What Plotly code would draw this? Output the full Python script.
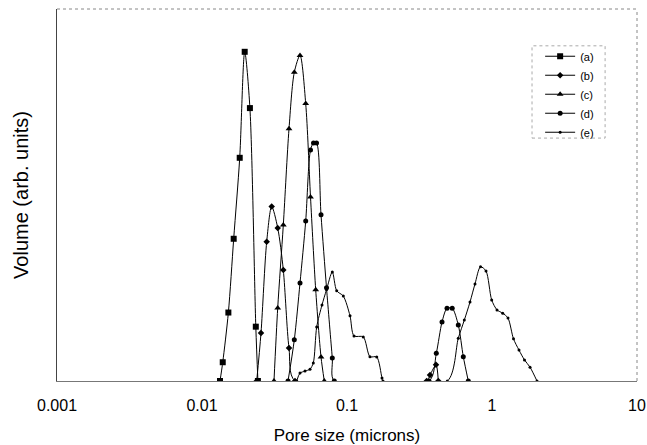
import plotly.graph_objects as go

# Pore size (microns) and volume (arb. units)
a_x = [0.01331, 0.0139, 0.0152, 0.01654, 0.0182, 0.0197, 0.0214, 0.0235, 0.0243]
a_y = [0, 5.7, 20.8, 43.2, 67.8, 100, 82.9, 16.5, 0]

b_x = [0.02384, 0.02552, 0.02794, 0.03024, 0.03328, 0.03637, 0.03981, 0.04379,
       0.3545, 0.3736, 0.4109, 0.4263]
b_y = [0, 14.6, 42.3, 53.0, 46.5, 33.7, 10.0, 0,
       0, 1.8, 4.9, 0]

c_x = [0.03137, 0.03328, 0.03637, 0.03981, 0.04331, 0.04742, 0.0519, 0.05602,
       0.06083, 0.06618, 0.06973]
c_y = [0, 22.2, 47.4, 76.6, 93.8, 98.9, 84.3, 55.9, 27.7, 7.3, 0]

d_x = [0.03919, 0.04331, 0.04742, 0.0519, 0.05602, 0.05875, 0.06162, 0.06618,
       0.07222, 0.07918, 0.08174,
       0.3678, 0.4129, 0.4521, 0.4895, 0.5316, 0.5856, 0.634, 0.6865]
d_y = [0, 12.5, 29.8, 48.6, 70.2, 72.3, 72.3, 50.5, 28.3, 7.0, 0,
       0, 8.4, 17.9, 22.1, 22.1, 17.0, 7.4, 0]

e_x = [0.04499, 0.04742, 0.05132, 0.05557, 0.05856, 0.0618, 0.06724, 0.07222,
       0.07918, 0.08492, 0.0943, 0.1049, 0.1118, 0.1295, 0.144, 0.1603, 0.1743,
       0.1771,
       0.4917, 0.5856, 0.6442, 0.7053, 0.7635, 0.8332, 0.9093, 0.9952, 1.083,
       1.185, 1.289, 1.407, 1.535, 1.675, 1.829, 2.043]
e_y = [0, 2.4, 3.0, 3.6, 5.5, 16.4, 23.1, 27.7, 33.1, 27.4, 25.8, 19.8, 13.7,
       13.4, 7.4, 7.3, 0.9, 0,
       0, 13.0, 18.5, 24.0, 29.5, 34.7, 33.4, 24.6, 21.6, 20.6, 19.1, 12.8,
       9.4, 6.4, 4.2, 0]

tick_vals = [0.001, 0.01, 0.1, 1, 10]
tick_text = ["0.001", "0.01", "0.1", "1", "10"]

series = [
    ("(a)", a_x, a_y, "square", 6),
    ("(b)", b_x, b_y, "diamond", 5),
    ("(c)", c_x, c_y, "triangle-up", 6),
    ("(d)", d_x, d_y, "circle", 5),
    ("(e)", e_x, e_y, "circle", 3),
]

fig = go.Figure()
for name, xs, ys, sym, sz in series:
    fig.add_trace(go.Scatter(
        x=xs, y=ys, name=name, mode="lines+markers",
        line=dict(color="black", width=1, shape="spline", smoothing=0.8),
        marker=dict(symbol=sym, size=sz, color="black"),
    ))

FONT = "Liberation Sans, Arial, sans-serif"

fig.update_layout(
    width=647, height=445,
    margin=dict(l=57, r=10, t=9, b=64, autoexpand=False),
    paper_bgcolor="white", plot_bgcolor="white",
    font=dict(family=FONT, color="black"),
    showlegend=True,
    legend=dict(
        x=0.833, y=0.912, xanchor="left", yanchor="top",
        bgcolor="rgba(0,0,0,0)", borderwidth=0,
        font=dict(size=11), tracegroupgap=0, itemwidth=30,
    ),
    xaxis=dict(
        type="log", range=[-3, 1], automargin=False,
        tickvals=tick_vals, ticktext=tick_text,
        tickfont=dict(size=16), ticks="", ticklabelstandoff=10,
        showgrid=False, zeroline=False,
        showline=True, linecolor="#777", linewidth=1,
        title=dict(text="Pore size (microns)", font=dict(size=17), standoff=18),
    ),
    yaxis=dict(
        range=[0, 113], showticklabels=False, ticks="", automargin=False,
        showgrid=False, zeroline=False,
        showline=True, linecolor="#444", linewidth=1,
        title=dict(text="Volume (arb. units)", font=dict(size=20), standoff=22),
    ),
    shapes=[
        dict(type="line", xref="paper", yref="paper", x0=0, x1=1, y0=1, y1=1,
             line=dict(color="#888", width=1, dash="dot")),
        dict(type="line", xref="paper", yref="paper", x0=1, x1=1, y0=0, y1=1,
             line=dict(color="#888", width=1, dash="dot")),
        dict(type="rect", xref="paper", yref="paper",
             x0=0.819, x1=0.945, y0=0.653, y1=0.901,
             line=dict(color="#aaa", width=1, dash="dot")),
    ],
)

fig.write_html("out.html")
